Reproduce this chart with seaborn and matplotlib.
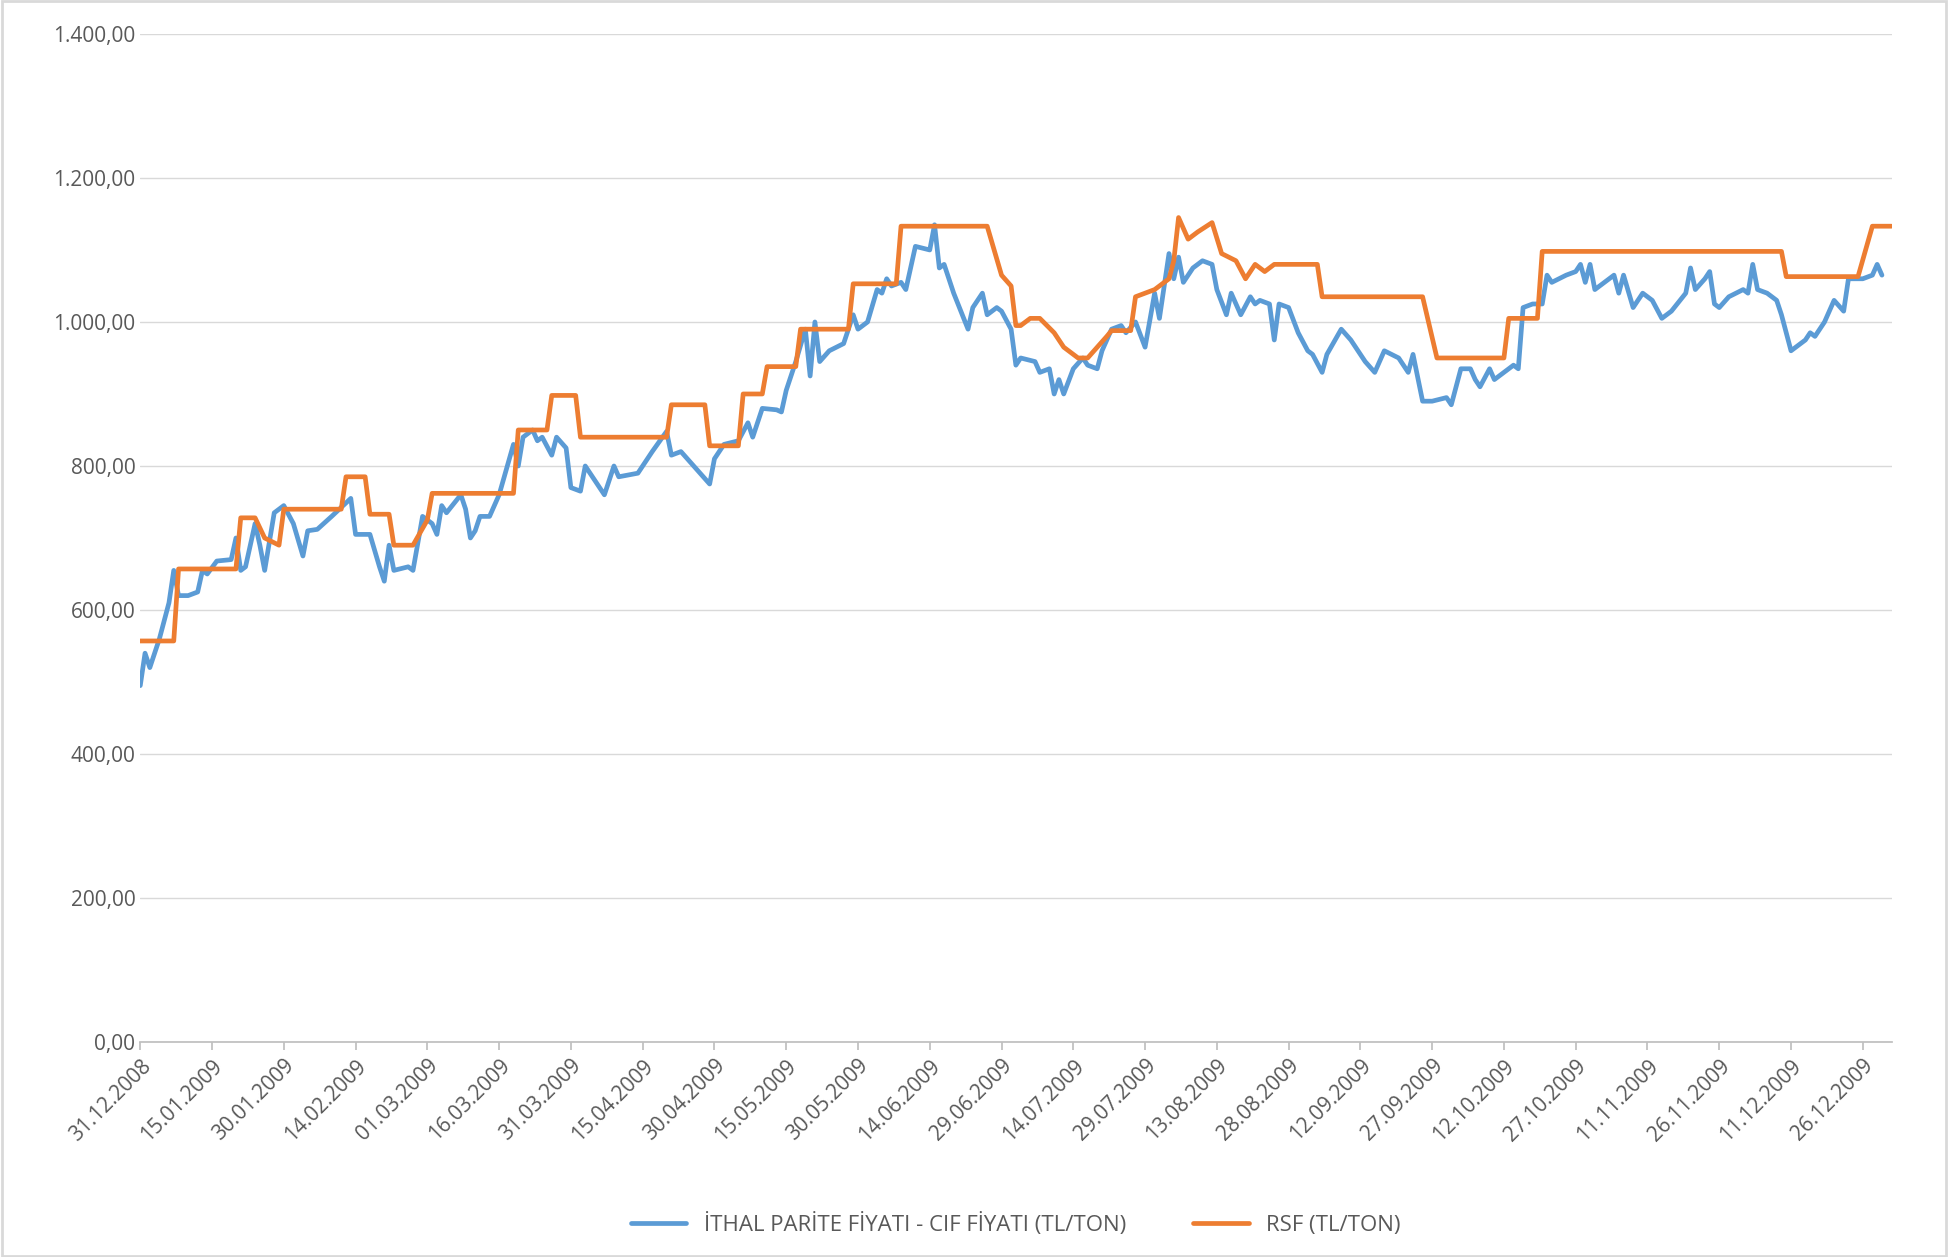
import pandas as pd
import matplotlib.pyplot as plt
import matplotlib.ticker as ticker
import matplotlib.dates as mdates
import seaborn as sns

sns.set_theme(style="white")
plt.rcParams['font.family'] = ['Open Sans', 'DejaVu Sans']

START = pd.Timestamp('2008-12-31')

# --- DATA (day offset from 31.12.2008, value) ---
cif_days = [0, 1, 2, 4, 6, 7, 8, 10, 12, 13, 14, 16, 19, 20, 21, 22, 24, 25, 26, 28, 30, 32, 34, 35, 37, 40, 44, 45, 48, 50,
            51, 52, 53, 56, 57, 59, 61, 62, 63, 64, 67, 68, 69, 70, 71, 73, 75, 78, 79, 80, 82, 83, 84, 86, 87, 89, 90, 92, 93, 94,
            97, 99, 100, 104, 107, 110, 111, 113, 117, 119, 120, 122, 125, 127, 128, 130, 133, 134, 135, 137, 139, 140, 141, 142, 144, 147, 149, 150, 152, 154,
            155, 156, 157, 159, 160, 162, 165, 166, 167, 168, 170, 173, 174, 176, 177, 179, 180, 182, 183, 184, 187, 188, 190, 191, 192, 193, 195, 197, 198, 200,
            201, 203, 205, 206, 208, 210, 212, 213, 215, 216, 217, 218, 220, 222, 224, 225, 227, 228, 230, 232, 233, 234, 236, 237, 238, 240, 242, 244, 245, 247,
            248, 251, 253, 256, 258, 260, 263, 265, 266, 268, 270, 273, 274, 276, 278, 279, 280, 282, 283, 287, 288, 289, 291, 293, 294, 295, 298, 300, 301, 302,
            303, 304, 306, 308, 309, 310, 312, 314, 316, 318, 320, 323, 324, 325, 327, 328, 329, 330, 332, 335, 336, 337, 338, 340, 342, 343, 345, 348, 349, 350,
            352, 354, 356, 357, 360, 362, 363, 364]
cif_values = [495, 540, 520, 560, 610, 655, 620, 620, 625, 655, 650, 668, 670, 700, 655, 660, 720, 690, 655, 735, 745, 720, 675, 710, 712, 730, 755, 705, 705, 660,
              640, 690, 655, 660, 655, 730, 720, 705, 745, 735, 760, 740, 700, 710, 730, 730, 760, 830, 800, 840, 850, 835, 840, 815, 840, 825, 770, 765, 800, 790,
              760, 800, 785, 790, 820, 848, 815, 820, 790, 775, 810, 830, 835, 860, 840, 880, 878, 875, 905, 945, 990, 925, 1000, 945, 960, 970, 1010, 990, 1000, 1045,
              1040, 1060, 1050, 1055, 1045, 1105, 1100, 1135, 1075, 1080, 1040, 990, 1020, 1040, 1010, 1020, 1015, 990, 940, 950, 945, 930, 935, 900, 920, 900, 935, 950, 940, 935,
              960, 990, 995, 985, 1000, 965, 1040, 1005, 1095, 1060, 1090, 1055, 1075, 1085, 1080, 1045, 1010, 1040, 1010, 1035, 1025, 1030, 1025, 975, 1025, 1020, 985, 960, 955, 930,
              955, 990, 975, 945, 930, 960, 950, 930, 955, 890, 890, 895, 885, 935, 935, 920, 910, 935, 920, 940, 935, 1020, 1025, 1025, 1065, 1055, 1065, 1070, 1080, 1055,
              1080, 1045, 1055, 1065, 1040, 1065, 1020, 1040, 1030, 1005, 1015, 1040, 1075, 1045, 1060, 1070, 1025, 1020, 1035, 1045, 1040, 1080, 1045, 1040, 1030, 1010, 960, 975, 985, 980,
              1000, 1030, 1015, 1060, 1060, 1065, 1080, 1065]

rsf_days = [0, 7, 8, 20, 21, 24, 26, 29, 30, 42, 43, 47, 48, 52, 53, 57, 60, 61, 78, 79, 85, 86, 91, 92, 110, 111, 118, 119, 125, 126,
            130, 131, 137, 138, 148, 149, 158, 159, 177, 180, 182, 183, 184, 186, 188, 191, 193, 196, 198, 202, 203, 207, 208, 212, 215, 216,
            217, 219, 221, 224, 226, 229, 231, 233, 235, 237, 246, 247, 268, 271, 285, 286, 292, 293, 343, 344, 359, 362, 366]
rsf_values = [557, 557, 657, 657, 728, 728, 700, 690, 740, 740, 785, 785, 733, 733, 690, 690, 725, 762, 762, 850, 850, 898, 898, 840, 840, 885, 885, 828, 828, 900,
              900, 938, 938, 990, 990, 1053, 1053, 1133, 1133, 1065, 1050, 995, 995, 1005, 1005, 985, 965, 950, 950, 980, 988, 988, 1035, 1045, 1060, 1085,
              1145, 1115, 1125, 1138, 1095, 1085, 1060, 1080, 1070, 1080, 1080, 1035, 1035, 950, 950, 1005, 1005, 1098, 1098, 1063, 1063, 1133, 1133]

cif_dates = START + pd.to_timedelta(cif_days, unit='D')
rsf_dates = START + pd.to_timedelta(rsf_days, unit='D')

fig = plt.figure(figsize=(19.48, 12.57), dpi=100)
ax = fig.add_axes([0.072, 0.171, 0.899, 0.802])

sns.lineplot(x=cif_dates, y=cif_values, ax=ax, color='#5B9BD5', linewidth=3.4,
             label='İTHAL PARİTE FİYATI - CIF FİYATI (TL/TON)')
sns.lineplot(x=rsf_dates, y=rsf_values, ax=ax, color='#ED7D31', linewidth=3.4,
             label='RSF (TL/TON)')

ax.set_ylim(0, 1400)
ax.set_yticks(range(0, 1401, 200))
ax.yaxis.set_major_formatter(ticker.FuncFormatter(
    lambda v, p: f"{v:,.2f}".replace(',', 'X').replace('.', ',').replace('X', '.')))
ticks = START + pd.to_timedelta(range(0, 361, 15), unit='D')
ax.set_xticks(ticks)
ax.xaxis.set_major_formatter(mdates.DateFormatter('%d.%m.%Y'))
ax.set_xlim(START, START + pd.Timedelta(days=366))
plt.setp(ax.get_xticklabels(), rotation=45, ha='right', rotation_mode='anchor')
ax.tick_params(axis='both', labelsize=15, colors='#595959', length=0)
ax.tick_params(axis='x', length=6, color='#BFBFBF', direction='out', bottom=True)
ax.grid(axis='y', color='#D9D9D9', linewidth=1)
for s in ['top', 'right', 'left']:
    ax.spines[s].set_visible(False)
ax.spines['bottom'].set_color('#BFBFBF')
ax.set_xlabel('')
ax.set_ylabel('')

ax.legend(loc='upper center', bbox_to_anchor=(0.5, -0.15), ncol=2, frameon=False,
          fontsize=16, labelcolor='#595959', handlelength=2.5, columnspacing=3)

fig.patches.append(plt.Rectangle((0.001, 0.001), 0.998, 0.998, transform=fig.transFigure,
                                 fill=False, edgecolor='#D9D9D9', linewidth=2))
fig.savefig('out.png', dpi=100)
